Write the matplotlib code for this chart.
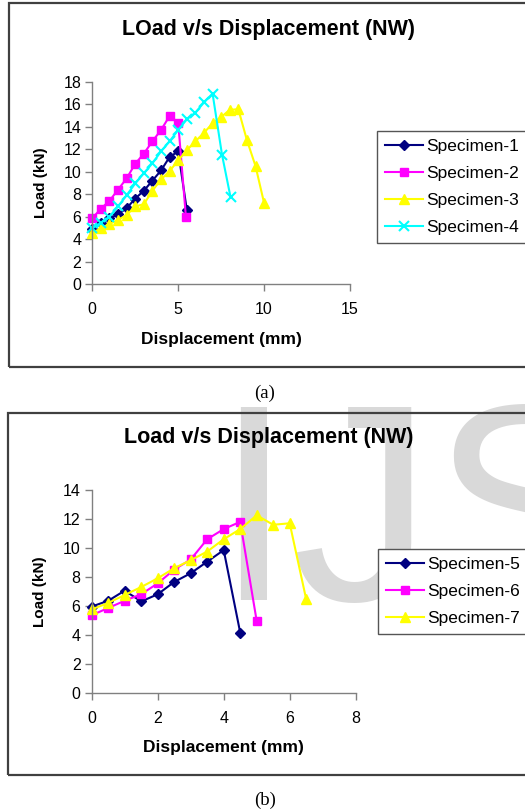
import matplotlib.pyplot as plt
from matplotlib.patches import Rectangle

# data (a)
x1 = [0, 0.5, 1.0, 1.5, 2.0, 2.5, 3.0, 3.5, 4.0, 4.5, 5.0, 5.5]
y1 = [4.9, 5.4, 5.85, 6.2, 6.75, 7.6, 8.3, 9.2, 10.1, 11.3, 11.8, 6.6]
x2 = [0, 0.5, 1.0, 1.5, 2.0, 2.5, 3.0, 3.5, 4.0, 4.5, 5.0, 5.45]
y2 = [5.85, 6.7, 7.4, 8.4, 9.4, 10.7, 11.6, 12.7, 13.7, 14.95, 14.35, 5.95]
x3 = [0, 0.5, 1.0, 1.5, 2.0, 2.5, 3.0, 3.5, 4.0, 4.5, 5.0, 5.5, 6.0, 6.5, 7.0,
      7.5, 8.0, 8.5, 9.0, 9.5, 10.0]
y3 = [4.55, 4.95, 5.35, 5.7, 6.15, 6.9, 7.1, 8.3, 9.3, 10.05, 11.0, 11.9, 12.7,
      13.45, 14.3, 14.85, 15.5, 15.55, 12.8, 10.5, 7.2]
x4 = [0, 0.5, 1.0, 1.5, 2.0, 2.5, 3.0, 3.5, 4.0, 4.5, 5.0, 5.5, 6.0, 6.5, 7.0,
      7.55, 8.05]
y4 = [4.95, 5.45, 6.0, 6.9, 7.9, 8.95, 9.85, 10.75, 11.8, 12.7, 13.7, 14.65,
      15.25, 16.15, 16.95, 11.5, 7.7]

# data (b)
x5 = [0, 0.5, 1.0, 1.5, 2.0, 2.5, 3.0, 3.5, 4.0, 4.5]
y5 = [5.95, 6.35, 7.05, 6.3, 6.8, 7.65, 8.25, 9.05, 9.85, 4.15]
x6 = [0, 0.5, 1.0, 1.5, 2.0, 2.5, 3.0, 3.5, 4.0, 4.5, 5.0]
y6 = [5.35, 5.85, 6.35, 6.8, 7.55, 8.5, 9.2, 10.6, 11.3, 11.8, 4.95]
x7 = [0, 0.5, 1.0, 1.5, 2.0, 2.5, 3.0, 3.5, 4.0, 4.5, 5.0, 5.5, 6.0, 6.5]
y7 = [5.75, 6.2, 6.75, 7.3, 7.9, 8.6, 9.15, 9.75, 10.6, 11.3, 12.25, 11.6,
      11.7, 6.45]

navy = '#000080'
mag = '#FF00FF'
yel = '#FFFF00'
cyan = '#00FFFF'

plt.rcParams['font.family'] = ['Liberation Sans', 'DejaVu Sans']

W, H = 525, 811
fig = plt.figure(figsize=(W / 100, H / 100), dpi=100)


def fx(px):
    return px / W


def fy(py):
    return 1 - py / H


# watermark
fig.text(fx(214), fy(600), 'IJS', fontsize=202, color='#d9d9d9',
         ha='left', va='baseline', zorder=-10)

# ramki paneli
fig.patches.append(Rectangle((fx(9), fy(367)), 1.2, (367 - 3) / H, transform=fig.transFigure,
                             fill=False, edgecolor='#404040', lw=1.6, zorder=-5))
fig.patches.append(Rectangle((fx(8), fy(775)), 1.2, (775 - 413) / H, transform=fig.transFigure,
                             fill=False, edgecolor='#404040', lw=1.6, zorder=-5))


def style(ax):
    ax.set_facecolor('none')
    for s in ['top', 'right']:
        ax.spines[s].set_visible(False)
    for s in ['left', 'bottom']:
        ax.spines[s].set_color('#808080')
        ax.spines[s].set_linewidth(1.0)
    ax.tick_params(colors='#808080', labelcolor='black', labelsize=11.5,
                   length=5, width=1, direction='out')
    ax.tick_params(axis='y', pad=3)
    ax.tick_params(axis='x', pad=8)


leg_kw = dict(loc='upper left', bbox_transform=fig.transFigure, fancybox=False,
              edgecolor='#555555', fontsize=12.5, handlelength=2.2, handletextpad=0.2,
              labelspacing=0.68, borderpad=0.45, borderaxespad=0, framealpha=1)

# wykres a
ax1 = fig.add_axes([fx(92.3), fy(284), (350 - 92.3) / W, (284 - 81.7) / H])
style(ax1)
ax1.plot(x1, y1, color=navy, marker='D', ms=5, lw=1.5, label='Specimen-1', clip_on=False)
ax1.plot(x2, y2, color=mag, marker='s', ms=6, lw=1.5, label='Specimen-2', clip_on=False)
ax1.plot(x3, y3, color=yel, marker='^', ms=7.5, lw=1.5, label='Specimen-3', clip_on=False)
ax1.plot(x4, y4, color=cyan, marker='x', ms=7, mew=1.5, lw=1.5, label='Specimen-4', clip_on=False)
ax1.set_xlim(0, 15)
ax1.set_ylim(0, 18)
ax1.set_xticks([0, 5, 10, 15])
ax1.set_yticks(range(0, 19, 2))
ax1.set_xlabel('Displacement (mm)', fontsize=12.5, fontweight='bold', labelpad=11)
ax1.set_ylabel('Load (kN)', fontsize=11, fontweight='bold', labelpad=11)
fig.text(fx(269), fy(30), 'LOad v/s Displacement (NW)', fontsize=15.5, fontweight='bold',
         ha='center', va='center')
ax1.legend(bbox_to_anchor=(fx(377), fy(131)), **leg_kw)
fig.text(fx(265), fy(393), '(a)', fontsize=13.5, family='Liberation Serif',
         ha='center', va='center')

# wykres b
ax2 = fig.add_axes([fx(91.7), fy(692.7), (355.7 - 91.7) / W, (692.7 - 490) / H])
style(ax2)
ax2.plot(x5, y5, color=navy, marker='D', ms=5, lw=1.5, label='Specimen-5', clip_on=False)
ax2.plot(x6, y6, color=mag, marker='s', ms=6, lw=1.5, label='Specimen-6', clip_on=False)
ax2.plot(x7, y7, color=yel, marker='^', ms=7.5, lw=1.5, label='Specimen-7', clip_on=False)
ax2.set_xlim(0, 8)
ax2.set_ylim(0, 14)
ax2.set_xticks(range(0, 9, 2))
ax2.set_yticks(range(0, 15, 2))
ax2.set_xlabel('Displacement (mm)', fontsize=12.5, fontweight='bold', labelpad=10)
ax2.set_ylabel('Load (kN)', fontsize=11, fontweight='bold', labelpad=11)
fig.text(fx(269), fy(438), 'Load v/s Displacement (NW)', fontsize=15.5, fontweight='bold',
         ha='center', va='center')
ax2.legend(bbox_to_anchor=(fx(378), fy(549)), **leg_kw)
fig.text(fx(265), fy(800), '(b)', fontsize=13.5, family='Liberation Serif',
         ha='center', va='center')

fig.savefig('out.png', dpi=100)
